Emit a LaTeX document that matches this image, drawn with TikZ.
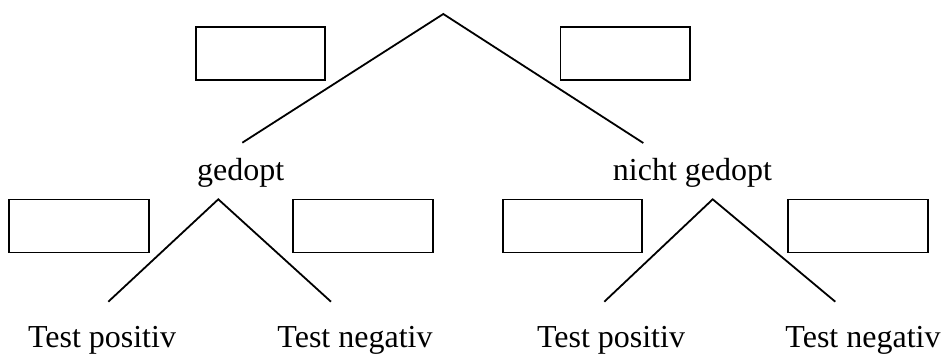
\documentclass[tikz,border=0pt]{standalone}
\usepackage{fontspec}
\setmainfont{Liberation Serif}
\begin{document}
\begin{tikzpicture}[x=1pt,y=-1pt,
  branch/.style={line width=1.8pt},
  blank/.style={draw,line width=1.8pt,minimum height=53pt,inner sep=0pt},
  label/.style={font=\fontsize{32}{35}\selectfont,anchor=base,inner sep=0pt}]
\useasboundingbox (0,0) rectangle (942,354);
% top level
\coordinate (root) at (443.3,14);
\coordinate (gL) at (242.3,142.7);
\coordinate (gR) at (643.3,143);
\draw[branch] (gL) -- (root) -- (gR);
\node[blank,minimum width=129.6pt] (bTL) at (260.5,53.8) {};
\node[blank,minimum width=129.6pt] (bTR) at (625.3,53.8) {};
% labels level 1
\node[label] (ged) at (240.7,180) {gedopt};
\node[label] (nged) at (692.5,180) {nicht gedopt};
% left subtree
\coordinate (aL) at (218.3,199.3);
\coordinate (aLL) at (108.3,301.7);
\coordinate (aLR) at (331,301.7);
\draw[branch] (aLL) -- (aL) -- (aLR);
\node[blank,minimum width=139.4pt] (b1) at (79,226) {};
\node[blank,minimum width=140pt] (b2) at (363.3,226) {};
% right subtree
\coordinate (aR) at (712.7,199.3);
\coordinate (aRL) at (604.3,301.7);
\coordinate (aRR) at (835.3,301.7);
\draw[branch] (aRL) -- (aR) -- (aRR);
\node[blank,minimum width=139.3pt] (b3) at (572.3,226) {};
\node[blank,minimum width=140pt] (b4) at (857.7,226) {};
% leaves
\node[label] (t1) at (102,347) {Test positiv};
\node[label] (t2) at (355,347) {Test negativ};
\node[label] (t3) at (611,347) {Test positiv};
\node[label] (t4) at (863,347) {Test negativ};
\end{tikzpicture}
\end{document}
